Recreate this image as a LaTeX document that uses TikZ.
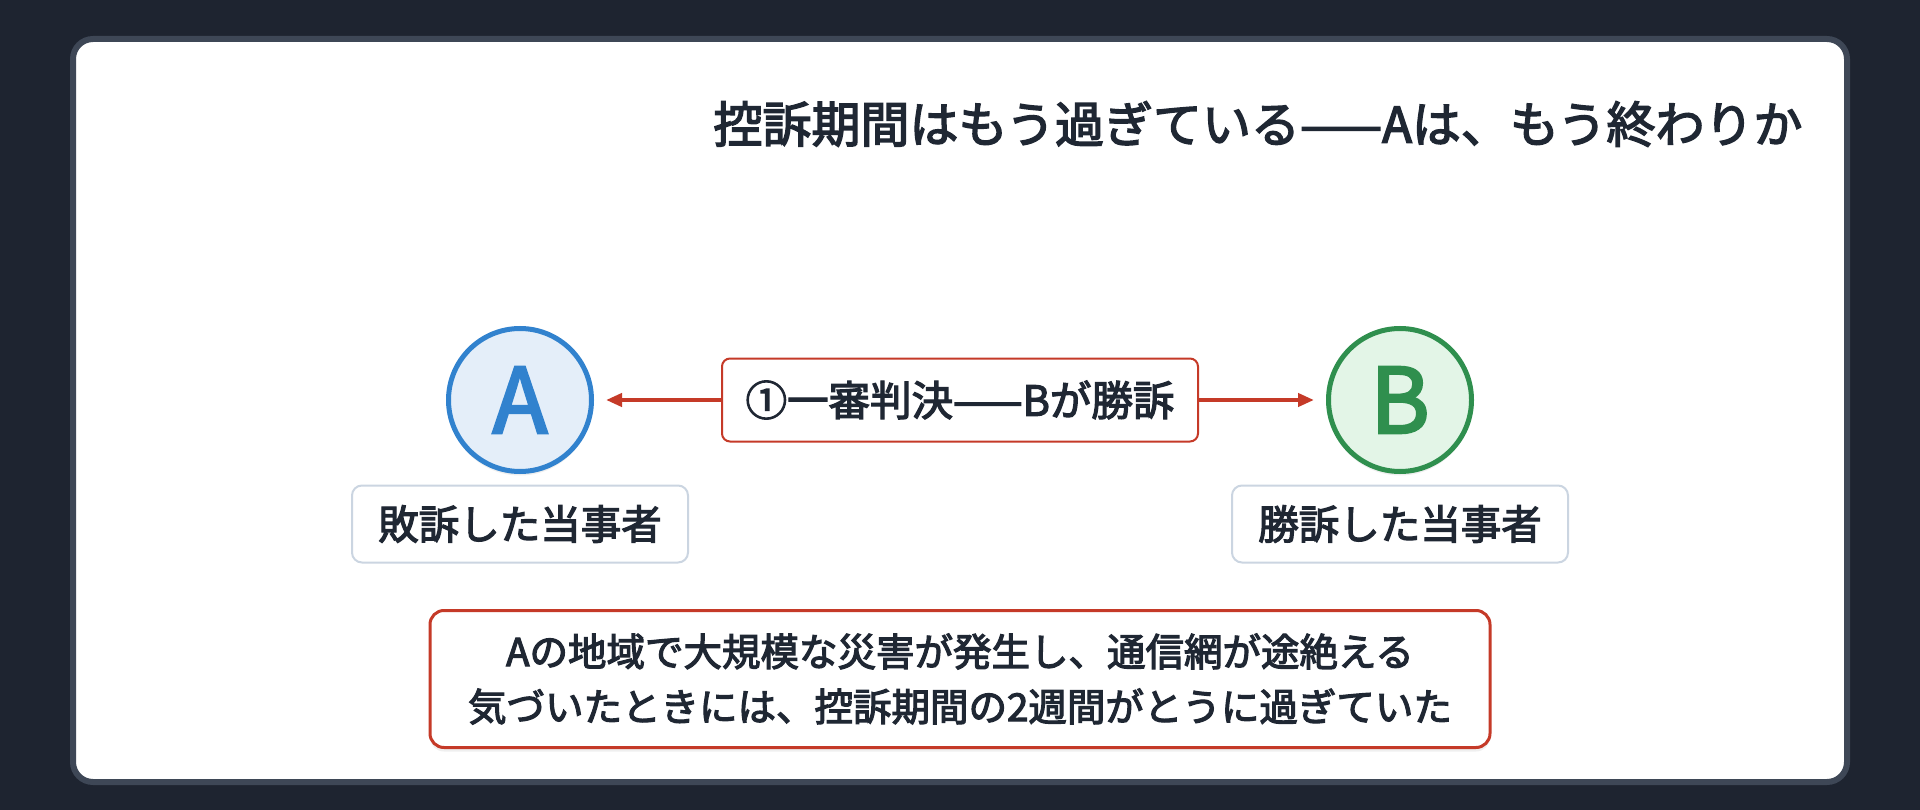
\documentclass[tikz,border=0pt]{standalone}
\usepackage{fontspec}
\setmainfont{Noto Sans CJK JP}[FakeBold=3]
\usetikzlibrary{arrows.meta, positioning, shadows}
\definecolor{bgdark}{HTML}{1E2430}
\definecolor{cardedge}{HTML}{3E4756}
\definecolor{ink}{HTML}{1F2733}
\definecolor{lossblue}{HTML}{3182CE}
\definecolor{lossfill}{HTML}{E4EEF9}
\definecolor{wingreen}{HTML}{2F8F4E}
\definecolor{winfill}{HTML}{E3F5E7}
\definecolor{alertred}{HTML}{C53A28}
\definecolor{tagedge}{HTML}{CBD5E1}

\begin{document}
\begin{tikzpicture}[
        x=1pt, y=-1pt, on grid, >={Triangle[length=16pt,width=13pt]},
        softshadow/.style={drop shadow={opacity=0.12, shadow xshift=0pt, shadow yshift=-4pt}},
        party/.style={circle, minimum size=143pt, line width=5pt, font=\fontsize{90}{90}\selectfont, inner sep=0pt, softshadow},
        tag/.style={draw=tagedge, line width=2pt, fill=white, rounded corners=10pt, minimum width=336pt, minimum height=77pt, text=ink, font=\fontsize{40.5}{45}\selectfont},
        judgbox/.style={draw=alertred, line width=2pt, fill=white, rounded corners=8pt, minimum width=476pt, minimum height=83pt, text=ink, font=\fontsize{41.5}{45}\selectfont},
        notebox/.style={draw=alertred, line width=3pt, fill=white, rounded corners=14pt, minimum width=1060pt, minimum height=137pt, align=center, text=ink, font=\fontsize{38.5}{55}\selectfont, softshadow},
        link/.style={->, draw=alertred, fill=alertred, line width=4.5pt, shorten >=12pt},
        ]

        \useasboundingbox (0,0) rectangle (1920,810);
        \fill[bgdark] (0,0) rectangle (1920,810);
        \draw[cardedge, fill=white, line width=6pt, rounded corners=20pt] (73,39) rectangle (1847,782);

        \node[anchor=east, text=ink, font=\fontsize{49}{56}\selectfont] (title) at (1806,124) {控訴期間はもう過ぎている——Aは、もう終わりか};

        \node[party, draw=lossblue, fill=lossfill, text=lossblue] (pa) at (520,400) {A};
        \node[judgbox] (judg) [right=440pt of pa] {①一審判決——Bが勝訴};
        \node[party, draw=wingreen, fill=winfill, text=wingreen] (pb) [right=440pt of judg] {B};
        \node[tag] (lose) [below=124pt of pa] {敗訴した当事者};
        \node[tag] (win) [below=124pt of pb] {勝訴した当事者};
        \node[notebox] (note) [below=279pt of judg] {Aの地域で大規模な災害が発生し、通信網が途絶える\\気づいたときには、控訴期間の2週間がとうに過ぎていた};

        \path[link] (judg) edge (pa)
        (judg) edge (pb);
      \end{tikzpicture}
\end{document}
